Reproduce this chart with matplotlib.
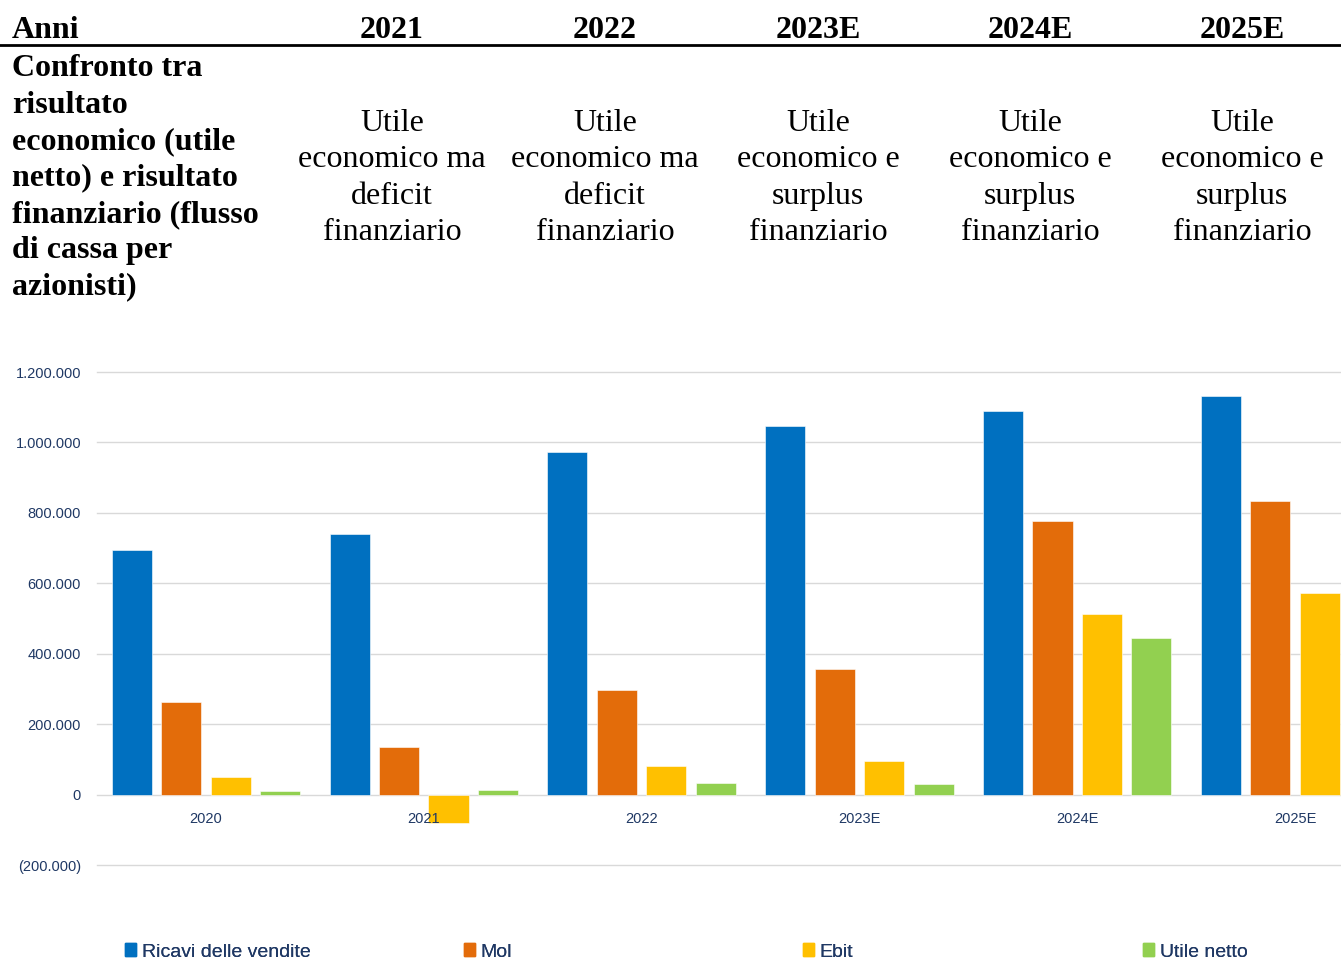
import matplotlib.pyplot as plt
import matplotlib.ticker as mticker
from matplotlib.patches import Patch
import numpy as np

# header table
anni = ['2021', '2022', '2023E', '2024E', '2025E']
descrizione = ('Confronto tra\nrisultato\neconomico (utile\nnetto) e risultato\n'
               'finanziario (flusso\ndi cassa per\nazionisti)')
giudizi = ['Utile\neconomico ma\ndeficit\nfinanziario',
           'Utile\neconomico ma\ndeficit\nfinanziario',
           'Utile\neconomico e\nsurplus\nfinanziario',
           'Utile\neconomico e\nsurplus\nfinanziario',
           'Utile\neconomico e\nsurplus\nfinanziario']

# bar chart data
periodi = ['2020', '2021', '2022', '2023E', '2024E', '2025E']
ricavi = [694000, 740000, 973000, 1047000, 1089000, 1132000]
mol = [262000, 134000, 296000, 358000, 776000, 833000]
ebit = [51000, -82000, 80000, 94000, 512000, 572000]
utile_netto = [11000, 14000, 34000, 31000, 444000, np.nan]  # 2025E cut off in the picture

serie = [('Ricavi delle vendite', ricavi, '#0070C0'),
         ('Mol', mol, '#E36C0A'),
         ('Ebit', ebit, '#FFC000'),
         ('Utile netto', utile_netto, '#92D050')]

W, H = 1341, 963
fig = plt.figure(figsize=(W / 100, H / 100), dpi=100)
serif = ['Liberation Serif', 'DejaVu Serif']
sans = ['Liberation Sans', 'DejaVu Sans']
navy = '#1F3864'

# ---- header table ----
fig.text(12 / W, 1 - 30 / H, 'Anni', family=serif, weight='bold', fontsize=23,
         ha='left', va='center')
col_x = [392, 605, 818, 1030, 1242]
for x, a in zip(col_x, anni):
    fig.text(x / W, 1 - 30 / H, a, family=serif, weight='bold', fontsize=23,
             ha='center', va='center')
fig.add_artist(plt.Line2D([0, 1], [1 - 45 / H, 1 - 45 / H], color='black', lw=2))
fig.text(12 / W, 1 - 178 / H, descrizione, family=serif, weight='bold', fontsize=23,
         ha='left', va='center', linespacing=1.335)
for x, g in zip(col_x, giudizi):
    fig.text(x / W, 1 - 178 / H, g, family=serif, fontsize=23,
             ha='center', va='center', linespacing=1.335)

# ---- chart ----
ax = fig.add_axes([97 / W, (H - 865) / H, 1307 / W, (865 - 372) / H])
x = np.arange(len(periodi))
step = 0.227
width = 0.184
for i, (nome, valori, col) in enumerate(serie):
    ax.bar(x + (i - 1.5) * step, valori, width, color=col, edgecolor='white',
           linewidth=0.4, label=nome, zorder=2)

ax.set_xlim(-0.5, len(periodi) - 0.5)
ax.set_ylim(-200000, 1200000)
ax.set_yticks(np.arange(-200000, 1200001, 200000))


def fmt(v, pos):
    s = '{:,.0f}'.format(abs(v)).replace(',', '.')
    return '({})'.format(s) if v < 0 else s


ax.yaxis.set_major_formatter(mticker.FuncFormatter(fmt))
ax.set_xticks([])
ax.grid(axis='y', color='#D9D9D9', linewidth=1, zorder=0)
for gl in ax.get_ygridlines():
    gl.set_clip_on(False)
for s in ax.spines.values():
    s.set_visible(False)
ax.tick_params(axis='y', length=0, pad=11.5, labelsize=10.5, labelcolor=navy)
for lab in ax.get_yticklabels():
    lab.set_family(sans)

for xi, p in zip(x, periodi):
    ax.annotate(p, (xi, 0), xytext=(0, -24), textcoords='offset pixels',
                ha='center', va='center', fontsize=10.5, color=navy,
                family=sans, zorder=5, annotation_clip=False)

# legend, evenly spaced entries
leg_x = [125, 464, 803, 1143]
for lx, (nome, valori, col) in zip(leg_x, serie):
    lg = fig.legend(handles=[Patch(color=col, label=nome)], loc='center left',
                    bbox_to_anchor=(lx / W, 1 - 952 / H), frameon=False,
                    borderpad=0, borderaxespad=0, handlelength=0.55,
                    handleheight=0.6, handletextpad=0.3,
                    prop={'family': sans, 'size': 14})
    for t in lg.get_texts():
        t.set_color(navy)
    fig.add_artist(lg)

fig.savefig('out.png', dpi=100)
